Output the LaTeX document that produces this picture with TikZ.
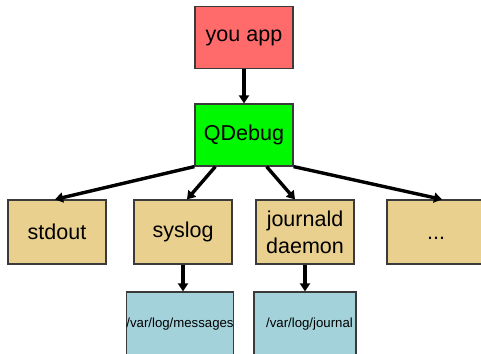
\documentclass[tikz,border=0pt]{standalone}
\usepackage{fontspec}
\setmainfont{Liberation Sans}
\usetikzlibrary{arrows.meta}
\definecolor{appred}{HTML}{FF6B6B}
\definecolor{dbggreen}{HTML}{00F800}
\definecolor{sinktan}{HTML}{EAD08F}
\definecolor{fileblue}{HTML}{A3D2DA}
\definecolor{edgegray}{HTML}{3A3A3A}
\tikzset{
  box/.style={draw=edgegray, line width=1.2pt, minimum width=98pt, minimum height=62pt,
    inner sep=0pt, font=\fontsize{21.5}{27}\selectfont, align=center},
  filebox/.style={box, fill=fileblue, minimum height=64pt, font=\fontsize{13.2}{15}\selectfont},
  flow/.style={line width=3.4pt, -{Triangle[length=8pt,width=10pt]}}
}
\begin{document}
\begin{tikzpicture}[x=1pt,y=-1pt]
\useasboundingbox (0,0) rectangle (481,353);
\clip (0,0) rectangle (481,353);
% application and logging front end
\node[box, fill=appred] (app) at (244,37.5) {you app};
\node[box, fill=dbggreen] (q) at (244,135) {QDebug};
% output back ends
\node[box, fill=sinktan, minimum height=64pt] (out) at (57,232) {stdout};
\node[box, fill=sinktan, minimum height=64pt] (sys) at (183,232) {syslog};
\node[box, fill=sinktan, minimum height=64pt] (jd) at (305,232) {journald\\daemon};
\node[box, fill=sinktan, minimum height=64pt] (more) at (436,232) {\vphantom{d}...};
% files on disk
\node[filebox, minimum width=106pt] (msg) at (180,324) {/var/log/messages};
\node[filebox, minimum width=102pt] (jrn) at (305,324) {\hspace*{9pt}/var/log/journal};
% connectors
\draw[flow] (app.south) -- (q.north);
\draw[flow] (q.south west) -- ([xshift=-2pt]out.north);
\draw[flow] ([xshift=21pt]q.south west) -- ([xshift=4pt]sys.north);
\draw[flow] ([xshift=-27pt]q.south east) -- ([xshift=-10pt]jd.north);
\draw[flow] (q.south east) -- ([xshift=6pt]more.north);
\draw[flow] (sys.south) -- (sys.south |- msg.north);
\draw[flow] (jd.south) -- (jd.south |- jrn.north);
\end{tikzpicture}
\end{document}
